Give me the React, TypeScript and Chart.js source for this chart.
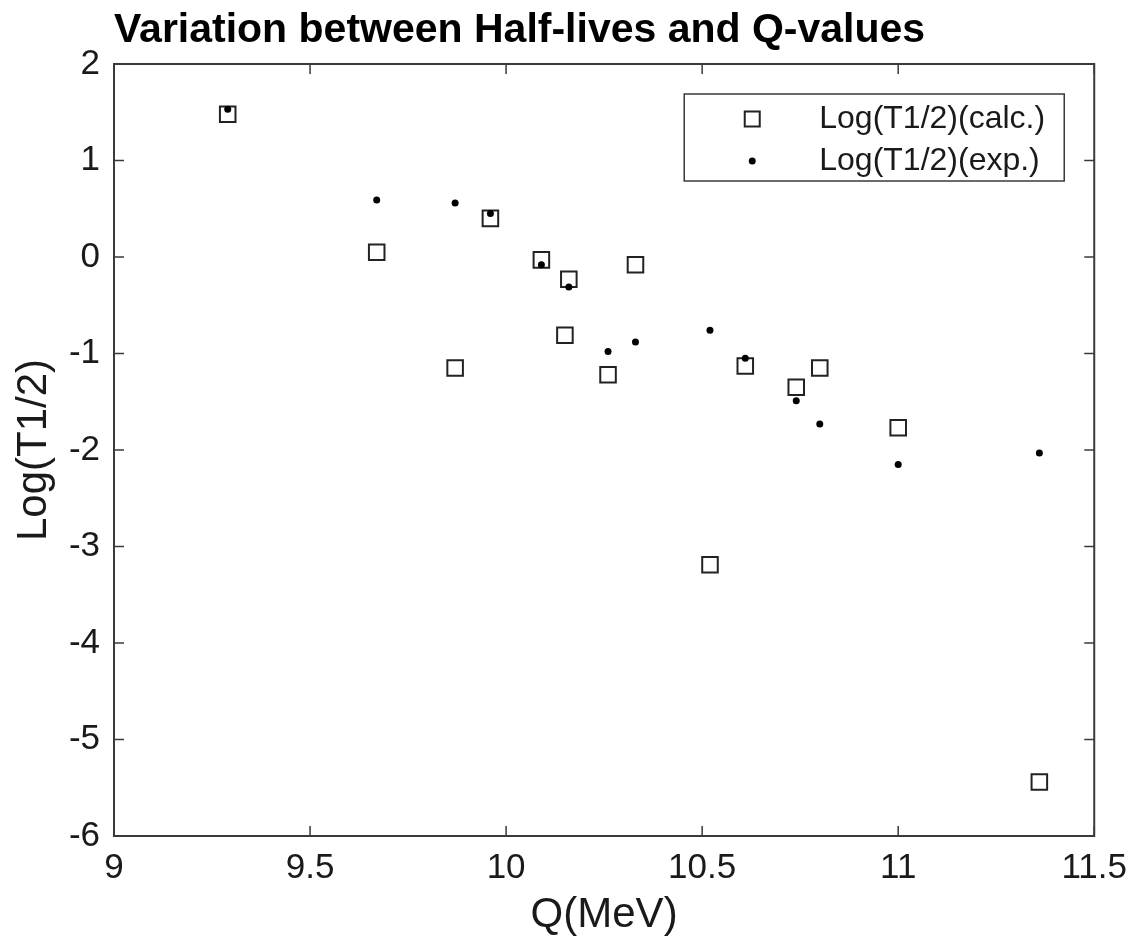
import React, { useEffect, useRef } from "react";
import { Chart, registerables } from "chart.js";

Chart.register(...registerables);

const TITLE = "Variation between Half-lives and Q-values";
const X_TITLE = "Q(MeV)";
const Y_TITLE = "Log(T1/2)";
const CALC_LABEL = "Log(T1/2)(calc.)";
const EXP_LABEL = "Log(T1/2)(exp.)";

const qCalc = [9.29, 9.67, 9.87, 9.96, 10.09, 10.15, 10.16, 10.26, 10.33, 10.52, 10.61, 10.74, 10.8, 11.0, 11.36];
const logCalc = [1.48, 0.05, -1.15, 0.4, -0.03, -0.81, -0.23, -1.22, -0.08, -3.19, -1.13, -1.35, -1.15, -1.77, -5.44];

const qExp = [9.29, 9.67, 9.87, 9.96, 10.09, 10.16, 10.26, 10.33, 10.52, 10.61, 10.74, 10.8, 11.0, 11.36];
const logExp = [1.53, 0.59, 0.56, 0.45, -0.08, -0.31, -0.98, -0.88, -0.76, -1.05, -1.49, -1.73, -2.15, -2.03];

const X_MIN = 9;
const X_MAX = 11.5;
const X_STEP = 0.5;
const Y_MIN = -6;
const Y_MAX = 2;
const Y_STEP = 1;

const FONT = "Arial, 'Liberation Sans', Helvetica, sans-serif";
const AXIS_COLOR = "#3a3a3a";
const TEXT_COLOR = "#1a1a1a";

const frameAndLegend = {
  id: "frameAndLegend",
  afterDatasetsDraw(chart: any) {
    const { ctx, chartArea } = chart;
    const { left, right, top, bottom } = chartArea;
    const xs = chart.scales.x;
    const ys = chart.scales.y;
    ctx.save();
    ctx.strokeStyle = AXIS_COLOR;
    ctx.lineWidth = 2;
    ctx.strokeRect(left, top, right - left, bottom - top);
    ctx.lineWidth = 1.5;
    const tl = 10;
    ctx.beginPath();
    xs.ticks.forEach((t: any) => {
      const px = xs.getPixelForValue(t.value);
      ctx.moveTo(px, bottom);
      ctx.lineTo(px, bottom - tl);
      ctx.moveTo(px, top);
      ctx.lineTo(px, top + tl);
    });
    ys.ticks.forEach((t: any) => {
      const py = ys.getPixelForValue(t.value);
      ctx.moveTo(left, py);
      ctx.lineTo(left + tl, py);
      ctx.moveTo(right, py);
      ctx.lineTo(right - tl, py);
    });
    ctx.stroke();

    // legend box
    const bw = 380;
    const bh = 87;
    const bx = right - 30 - bw;
    const by = top + 30;
    ctx.fillStyle = "#ffffff";
    ctx.fillRect(bx, by, bw, bh);
    ctx.strokeStyle = AXIS_COLOR;
    ctx.lineWidth = 1.5;
    ctx.strokeRect(bx, by, bw, bh);
    const mx = bx + 68;
    const row1 = by + 25;
    const row2 = by + 67;
    ctx.strokeStyle = "#222";
    ctx.lineWidth = 2;
    ctx.strokeRect(mx - 7.5, row1 - 7.5, 15, 15);
    ctx.fillStyle = "#000";
    ctx.beginPath();
    ctx.arc(mx, row2, 3.5, 0, Math.PI * 2);
    ctx.fill();
    ctx.fillStyle = TEXT_COLOR;
    ctx.font = `32px ${FONT}`;
    ctx.textAlign = "left";
    ctx.textBaseline = "middle";
    const ds = chart.data.datasets;
    ctx.fillText(ds[0].label, bx + 135, row1);
    ctx.fillText(ds[1].label, bx + 135, row2);
    ctx.restore();
  },
};

export default function App() {
  const ref = useRef<HTMLCanvasElement | null>(null);
  useEffect(() => {
    if (!ref.current) return;
    const chart = new Chart(ref.current, {
      type: "scatter",
      data: {
        datasets: [
          {
            label: CALC_LABEL,
            data: qCalc.map((q, i) => ({ x: q, y: logCalc[i] })),
            pointStyle: "rect",
            pointRadius: 11,
            borderWidth: 2,
            borderColor: "#222",
            backgroundColor: "rgba(0,0,0,0)",
            order: 1,
          },
          {
            label: EXP_LABEL,
            data: qExp.map((q, i) => ({ x: q, y: logExp[i] })),
            pointStyle: "circle",
            pointRadius: 3.5,
            borderWidth: 0,
            borderColor: "#000",
            backgroundColor: "#000",
            order: 0,
          },
        ],
      },
      options: {
        responsive: false,
        animation: false,
        layout: { padding: { left: 0, right: 41, top: 0, bottom: 0 } },
        plugins: {
          legend: { display: false },
          tooltip: { enabled: false },
          title: {
            display: true,
            text: TITLE,
            align: "start",
            fullSize: false,
            color: "#000",
            font: { family: FONT, size: 41, weight: "bold", lineHeight: 1 },
            padding: { top: 10, bottom: 13 },
          },
        },
        scales: {
          x: {
            type: "linear",
            min: X_MIN,
            max: X_MAX,
            grid: { display: false, drawTicks: false },
            border: { display: false },
            afterFit: (s: any) => {
              s.height = 108;
            },
            ticks: {
              stepSize: X_STEP,
              padding: 11,
              color: TEXT_COLOR,
              font: { family: FONT, size: 35 },
              callback: (v: any) => String(v),
            },
            title: {
              display: true,
              text: X_TITLE,
              color: TEXT_COLOR,
              font: { family: FONT, size: 42, lineHeight: 1 },
              padding: { top: 0, bottom: 8 },
            },
          },
          y: {
            type: "linear",
            min: Y_MIN,
            max: Y_MAX,
            grid: { display: false, drawTicks: false },
            border: { display: false },
            afterFit: (s: any) => {
              s.width = 114;
            },
            ticks: {
              stepSize: Y_STEP,
              padding: 14,
              color: TEXT_COLOR,
              font: { family: FONT, size: 35 },
              callback: (v: any) => String(v),
            },
            title: {
              display: true,
              text: Y_TITLE,
              color: TEXT_COLOR,
              font: { family: FONT, size: 42, lineHeight: 1 },
              padding: { top: 13, bottom: 0 },
            },
          },
        },
      },
      plugins: [frameAndLegend],
    });
    return () => chart.destroy();
  }, []);
  return (
    <div style={{ position: "fixed", left: 0, top: 0, width: 1138, height: 944, background: "#fff" }}>
      <canvas ref={ref} width={1138} height={944} />
    </div>
  );
}
